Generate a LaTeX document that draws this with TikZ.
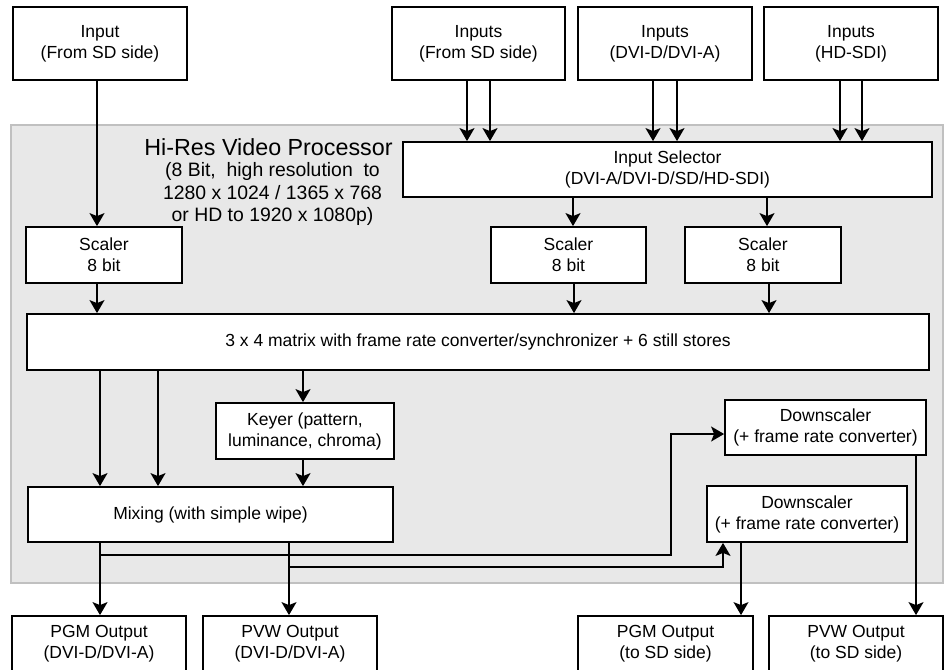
\documentclass[tikz,border=0pt]{standalone}
\usepackage{fontspec}
\setmainfont{Liberation Sans}
\usetikzlibrary{arrows.meta}
\definecolor{panelfill}{RGB}{232,232,232}
\definecolor{panelline}{RGB}{192,192,192}

\tikzset{
  blk/.style={draw, line width=1.8pt, fill=white, align=center, inner sep=0pt,
    font=\fontsize{17.5}{21}\selectfont},
  arr/.style={line width=1.6pt, -{Stealth[length=13pt,width=15pt,inset=3pt]}},
}

\begin{document}
\begin{tikzpicture}[x=1pt,y=-1pt]
\useasboundingbox (0,0) rectangle (944,669);
\clip (0,0) rectangle (944,669);

% Processor panel
\fill[panelfill,draw=panelline,line width=2pt] (11,125) rectangle (943,583);
\node (title) at (268.5,147) {\fontsize{23.3}{28}\selectfont Hi-Res Video Processor};
\node[align=center, font=\fontsize{19.4}{22.5}\selectfont] (spec) at (272.5,194)
  {(8 Bit,~ high resolution~ to\\1280 x 1024 / 1365 x 768\\or HD to 1920 x 1080p)};

% Inputs
\node[blk, minimum width=174pt, minimum height=73pt] (in0) at (100,43.5) {Input\\(From SD side)};
\node[blk, minimum width=173pt, minimum height=73pt] (in1) at (478.5,43.5) {Inputs\\(From SD side)};
\node[blk, minimum width=174pt, minimum height=73pt] (in2) at (665,43.5) {Inputs\\(DVI-D/DVI-A)};
\node[blk, minimum width=174pt, minimum height=73pt] (in3) at (851,43.5) {Inputs\\(HD-SDI)};

% Processing blocks
\node[blk, minimum width=529pt, minimum height=55pt] (sel) at (667.5,169.5) {Input Selector\\(DVI-A/DVI-D/SD/HD-SDI)};
\node[blk, minimum width=156pt, minimum height=56pt] (sc0) at (104,255) {Scaler\\8 bit};
\node[blk, minimum width=155pt, minimum height=56pt] (sc1) at (568.5,255) {Scaler\\8 bit};
\node[blk, minimum width=156pt, minimum height=56pt] (sc2) at (763,255) {Scaler\\8 bit};
\node[blk, minimum width=902pt, minimum height=56pt] (mat) at (478,342) {3 x 4 matrix with frame rate converter/synchronizer + 6 still stores};
\node[blk, minimum width=178pt, minimum height=56pt] (key) at (305,431) {Keyer (pattern,\\luminance, chroma)};
\node[blk, minimum width=365pt, minimum height=55pt] (mix) at (210.5,514.5) {Mixing (with simple wipe)};
\node[blk, minimum width=201pt, minimum height=55pt] (ds1) at (825.5,427.5) {Downscaler\\(+ frame rate converter)};
\node[blk, minimum width=200pt, minimum height=56pt] (ds2) at (807,514) {Downscaler\\(+ frame rate converter)};

% Outputs
\node[blk, minimum width=174pt, minimum height=55pt] (pgm0) at (99,643.5) {PGM Output\\(DVI-D/DVI-A)};
\node[blk, minimum width=174pt, minimum height=55pt] (pvw0) at (290,643.5) {PVW Output\\(DVI-D/DVI-A)};
\node[blk, minimum width=175pt, minimum height=55pt] (pgm1) at (665.5,643.5) {PGM Output\\(to SD side)};
\node[blk, minimum width=174pt, minimum height=55pt] (pvw1) at (856,643.5) {PVW Output\\(to SD side)};

% Input side
\draw[arr] (in0.south -| 97,0) -- (sc0.north -| 97,0);
\foreach \n/\a/\b in {in1/467/490, in2/653/677, in3/840/862} {
    \draw[arr] (\n.south -| \a,0) -- (sel.north -| \a,0);
    \draw[arr] (\n.south -| \b,0) -- (sel.north -| \b,0);
}
\draw[arr] (sel.south -| 573,0) -- (sc1.north -| 573,0);
\draw[arr] (sel.south -| 767,0) -- (sc2.north -| 767,0);
\draw[arr] (sc0.south -| 97,0) -- (mat.north -| 97,0);
\draw[arr] (sc1.south -| 574,0) -- (mat.north -| 574,0);
\draw[arr] (sc2.south -| 769,0) -- (mat.north -| 769,0);

% Matrix to mixing
\draw[arr] (mat.south -| 100,0) -- (mix.north -| 100,0);
\draw[arr] (mat.south -| 158,0) -- (mix.north -| 158,0);
\draw[arr] (mat.south -| 303,0) -- (key.north -| 303,0);
\draw[arr] (key.south -| 303,0) -- (mix.north -| 303,0);

% Outputs
\coordinate (tap0) at (100,555);
\coordinate (tap1) at (289,567);
\draw[arr] (mix.south -| 100,0) -- (pgm0.north -| 100,0);
\draw[arr] (mix.south -| 289,0) -- (pvw0.north -| 289,0);
\draw[arr] (tap0) -- (671,555) |- (ds1.west |- 0,434);
\draw[arr] (tap1) -| (ds2.south -| 723,0);
\draw[arr, line width=1.2pt] (ds2.south -| 741,0) -- (pgm1.north -| 741,0);
\draw[arr] (ds1.south -| 916,0) -- (pvw1.north -| 916,0);
\end{tikzpicture}
\end{document}
